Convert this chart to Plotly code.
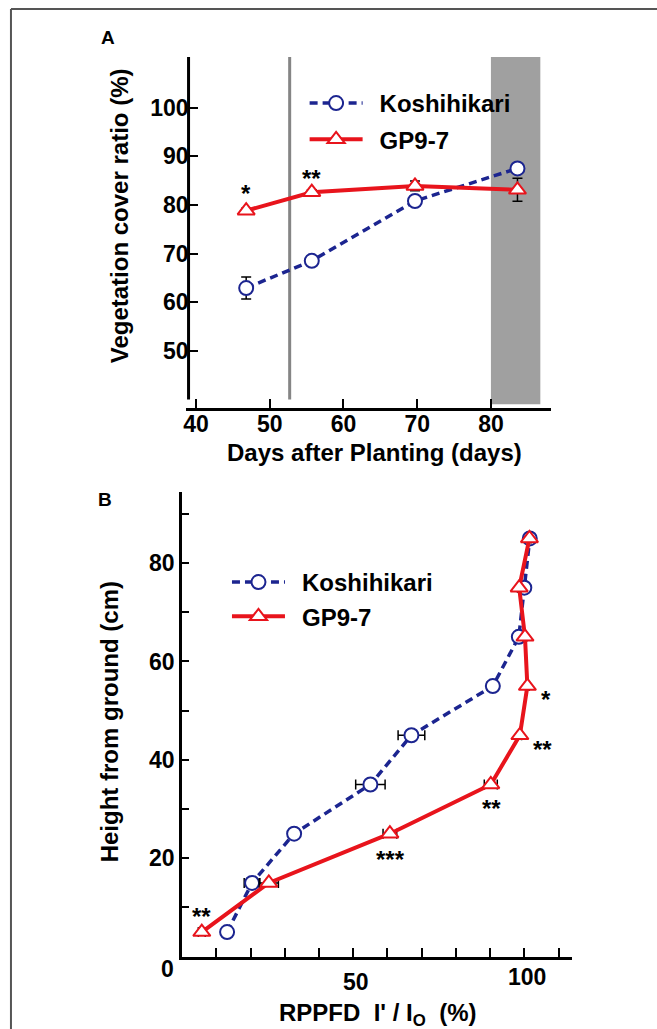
import plotly.graph_objects as go

# ---------------- Panel A data ----------------
days = [46.8, 55.7, 69.7, 83.6]
cover_koshi = [62.9, 68.5, 80.8, 87.5]
cover_koshi_err = [2.25, 0.5, 0.5, 0.5]
cover_gp = [78.8, 82.6, 83.9, 83.1]
cover_gp_err = [0.5, 0.5, 1.0, 2.35]
sig_a_x = [46.8, 55.7]
sig_a_y = [82.3, 85.5]
sig_a_txt = ["*", "**"]
ticks_a_x = [40, 50, 60, 70, 80]
ticks_a_y = [50, 60, 70, 80, 90, 100]

# ---------------- Panel B data ----------------
height = [5, 15, 25, 35, 45, 55, 65, 75, 85]
rppfd_koshi = [13.1, 20.4, 32.7, 55.0, 67.0, 90.8, 98.4, 100.0, 101.6]
rppfd_koshi_err = [0.8, 2.3, 1.0, 4.3, 3.9, 1.6, 0.5, 0.5, 0.5]
rppfd_gp = [5.7, 25.3, 60.7, 90.2, 98.7, 100.9, 100.2, 98.5, 101.5]
rppfd_gp_err = [1.0, 2.8, 2.0, 1.9, 0.5, 0.5, 0.5, 0.5, 0.5]
sig_b_x = [106.3, 105.2, 90.4, 61.0, 5.7]
sig_b_y = [52.3, 42.1, 30.1, 19.7, 8.1]
sig_b_txt = ["*", "**", "**", "***", "**"]
ticks_b_x = [10, 20, 30, 40, 50, 60, 70, 80, 90, 100, 110]
labels_b_x = [50, 100]
labels_b_x_ypx = [981.7, 976.7]
ticks_b_y = [10, 20, 30, 40, 50, 60, 70, 80, 90]
ticks_b_y_txt = ["", "20", "", "40", "", "60", "", "80", ""]

W, H = 657, 1029
BLUE = "#1c2590"
RED = "#e8141c"
FONT = "Liberation Sans, Arial, sans-serif"

def px_x(p):
    return p / W

def px_y(p):
    return 1 - p / H

fig = go.Figure()

circle = dict(symbol="circle", size=14, color="white", line=dict(color=BLUE, width=2))
tri = dict(symbol="triangle-up", size=15, color="white", line=dict(color=RED, width=2))
SP = "\u2002"

# Panel A traces
fig.add_trace(go.Scatter(
    x=days, y=cover_koshi, mode="lines+markers", name=SP + "Koshihikari",
    line=dict(color=BLUE, width=3.5, dash="8px,5px"), marker=circle,
    error_y=dict(type="data", array=cover_koshi_err, color="black", thickness=1.5, width=5),
    xaxis="x", yaxis="y", legend="legend", legendgroup="k"))
fig.add_trace(go.Scatter(
    x=days, y=cover_gp, mode="lines+markers", name=SP + "GP9-7",
    line=dict(color=RED, width=4), marker=tri,
    error_y=dict(type="data", array=cover_gp_err, color="black", thickness=1.5, width=5),
    xaxis="x", yaxis="y", legend="legend", legendgroup="g"))

# Panel B traces
fig.add_trace(go.Scatter(
    x=rppfd_koshi, y=height, mode="lines+markers", name=SP + "Koshihikari",
    line=dict(color=BLUE, width=3.5, dash="8px,5px"), marker=circle,
    error_x=dict(type="data", array=rppfd_koshi_err, color="black", thickness=1.5, width=5),
    xaxis="x2", yaxis="y2", legend="legend2", legendgroup="k2"))
fig.add_trace(go.Scatter(
    x=rppfd_gp, y=height, mode="lines+markers", name=SP + "GP9-7",
    line=dict(color=RED, width=4), marker=tri,
    error_x=dict(type="data", array=rppfd_gp_err, color="black", thickness=1.5, width=5),
    xaxis="x2", yaxis="y2", legend="legend2", legendgroup="g2"))

tickfont = dict(family=FONT, size=23, color="black", weight="bold")
legfont = dict(family=FONT, size=24, color="black", weight="bold")

fig.update_layout(
    width=W, height=H, margin=dict(l=0, r=0, t=0, b=0),
    paper_bgcolor="white", plot_bgcolor="rgba(0,0,0,0)",
    xaxis=dict(domain=[px_x(184.3), px_x(550.9)], range=[38.7, 88.2], anchor="y",
               showline=True, linecolor="black", linewidth=3, showgrid=False, zeroline=False,
               ticks="inside", ticklen=9, tickwidth=1.5, tickcolor="black",
               tickvals=ticks_a_x, tickfont=tickfont, ticklabelstandoff=-6),
    yaxis=dict(domain=[px_y(407.7), px_y(57)], range=[38.3, 110.4], anchor="free",
               position=px_x(186.4),
               showline=False, showgrid=False, zeroline=False,
               ticks="inside", ticklen=8, tickwidth=1.5, tickcolor="black",
               tickvals=ticks_a_y, tickfont=tickfont),
    xaxis2=dict(domain=[px_x(180.1), px_x(571.8)], range=[0, 114], anchor="y2",
                showline=True, linecolor="black", linewidth=3, showgrid=False, zeroline=False,
                ticks="inside", ticklen=9, tickwidth=1.5, tickcolor="black",
                tickvals=ticks_b_x, showticklabels=False),
    yaxis2=dict(domain=[px_y(956.7), px_y(491.7)], range=[0, 94.5], anchor="x2",
                showline=True, linecolor="black", linewidth=3, showgrid=False, zeroline=False,
                ticks="inside", ticklen=7, tickwidth=1.5, tickcolor="black",
                tickvals=ticks_b_y, ticktext=ticks_b_y_txt, tickfont=tickfont),
    legend=dict(x=px_x(303), y=px_y(81), xanchor="left", yanchor="top",
                font=legfont, bgcolor="rgba(0,0,0,0)", itemwidth=53, tracegroupgap=2),
    legend2=dict(x=px_x(225), y=px_y(560), xanchor="left", yanchor="top",
                 font=legfont, bgcolor="rgba(0,0,0,0)", itemwidth=53, tracegroupgap=0),
)

shapes = [
    # shaded period in A
    dict(type="rect", xref="x", yref="y", x0=80, x1=86.7, y0=39, y1=110.4,
         fillcolor="#a0a0a0", line=dict(width=0), layer="below"),
    # vertical grey line in A
    dict(type="line", xref="x", yref="y", x0=52.7, x1=52.7, y0=40, y1=110.4,
         line=dict(color="#858585", width=3), layer="below"),
    # y axis line A
    dict(type="line", xref="paper", yref="y", x0=px_x(186.4), x1=px_x(186.4), y0=40, y1=110.4,
         line=dict(color="black", width=3)),
    # figure frame (top and left)
    dict(type="line", xref="paper", yref="paper", x0=px_x(8), x1=1, y0=px_y(9), y1=px_y(9),
         line=dict(color="#555555", width=2)),
    dict(type="line", xref="paper", yref="paper", x0=px_x(8), x1=px_x(8), y0=0, y1=px_y(9),
         line=dict(color="#555555", width=2)),
]

title_font = dict(family=FONT, size=24, color="black", weight="bold")
panel_font = dict(family=FONT, size=19, color="black", weight="bold")
star_font = dict(family=FONT, size=24, color="black", weight="bold")
annotations = [
    dict(text="A", x=px_x(105), y=px_y(37.5), xref="paper", yref="paper", showarrow=False,
         xanchor="center", yanchor="middle", font=panel_font),
    dict(text="B", x=px_x(102.6), y=px_y(500), xref="paper", yref="paper", showarrow=False,
         xanchor="center", yanchor="middle", font=panel_font),
    dict(text="Vegetation cover ratio (%)", x=px_x(117.3), y=px_y(215.5), xref="paper", yref="paper",
         showarrow=False, textangle=-90, xanchor="center", yanchor="middle", font=title_font),
    dict(text="Days after Planting (days)", x=px_x(373.3), y=px_y(452.7), xref="paper", yref="paper",
         showarrow=False, xanchor="center", yanchor="middle", font=title_font),
    dict(text="Height from ground (cm)", x=px_x(106.8), y=px_y(722), xref="paper", yref="paper",
         showarrow=False, textangle=-90, xanchor="center", yanchor="middle", font=title_font),
    dict(text="RPPFD\u00a0\u00a0I' / I<sub>O</sub>\u00a0\u00a0(%)", x=px_x(376), y=px_y(1014),
         xref="paper", yref="paper", showarrow=False, xanchor="center", yanchor="middle", font=title_font),
    dict(text="0", x=px_x(165.5), y=px_y(969), xref="paper", yref="paper", showarrow=False,
         xanchor="center", yanchor="middle", font=tickfont),
]
for lx, ly in zip(labels_b_x, labels_b_x_ypx):
    annotations.append(dict(text=str(lx), x=lx, y=px_y(ly), xref="x2", yref="paper",
                            showarrow=False, xanchor="center", yanchor="middle", xshift=3,
                            font=tickfont))
for sx, sy, st in zip(sig_a_x, sig_a_y, sig_a_txt):
    annotations.append(dict(text=st, x=sx, y=sy, xref="x", yref="y", showarrow=False,
                            xanchor="center", yanchor="middle", font=star_font))
for sx, sy, st in zip(sig_b_x, sig_b_y, sig_b_txt):
    annotations.append(dict(text=st, x=sx, y=sy, xref="x2", yref="y2", showarrow=False,
                            xanchor="center", yanchor="middle", font=star_font))

fig.update_layout(shapes=shapes, annotations=annotations)
fig.write_html("out.html")
